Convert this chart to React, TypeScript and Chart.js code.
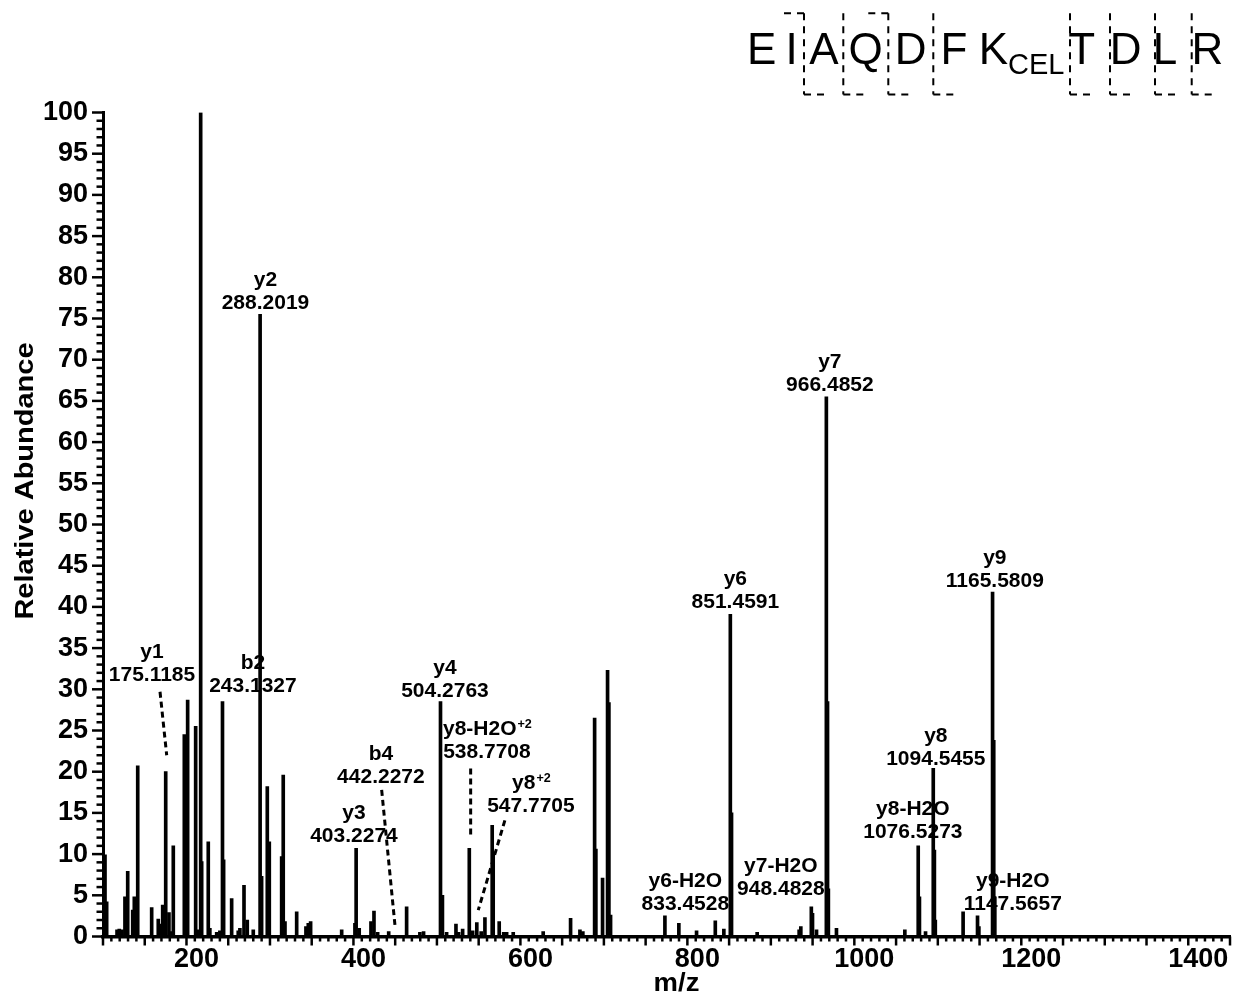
import React, { useEffect, useRef } from 'react';
import { Chart, registerables } from 'chart.js';

Chart.register(...registerables);

// ---------- DATA ----------
const peakMz = [
  102.4, 104.4, 116.8, 119.5, 122.8, 126.3, 129.6, 135.6, 137.5, 141.6,
  158.3, 166.2, 168.3, 171.5, 175.1185, 179.0, 180.5, 184.2, 197.4, 201.4,
  211.0, 212.8, 217.0, 218.2, 226.1, 228.0, 236.2, 240.0, 243.1327, 244.5,
  254.1, 262.0, 264.0, 268.9, 272.8, 280.0, 288.2019, 290.0, 296.8, 299.2,
  314.0, 315.9, 318.0, 332.0, 343.1, 345.9, 348.7, 385.9, 401.8, 403.2274,
  406.9, 421.0, 424.6, 429.0, 442.2272, 463.7, 479.6, 484.0, 504.2763, 506.6,
  511.6, 522.8, 526.0, 530.8, 538.7708, 542.8, 547.7705, 553.0, 557.5, 566.2,
  567.4, 574.6, 580.0, 583.5, 591.4, 627.3, 660.1, 671.3, 674.8, 688.9,
  690.4, 698.4, 704.4, 706.0, 708.0, 773.1, 789.8, 811.0, 833.4528, 843.7,
  851.4591, 852.9, 883.6, 933.9, 935.9, 948.4828, 949.9, 954.7, 966.4852, 967.9,
  968.9, 978.6, 1060.5, 1076.5273, 1078.0, 1085.3, 1094.5455, 1095.9, 1097.0, 1130.3,
  1147.5657, 1149.2, 1165.5809, 1167.0, 1168.3,
];
const peakIntensity = [
  9.9, 4.2, 0.8, 0.9, 0.8, 4.8, 7.9, 3.2, 4.8, 20.7,
  3.5, 2.1, 1.5, 3.8, 20.0, 2.9, 0.6, 11.0, 24.5, 28.7,
  25.5, 0.8, 100, 9.1, 11.5, 1.0, 0.5, 0.7, 28.5, 9.3,
  4.6, 0.7, 1.0, 6.2, 2.0, 0.8, 75.5, 7.3, 18.2, 11.5,
  9.7, 19.6, 1.8, 3.0, 1.2, 1.6, 1.8, 0.8, 1.6, 10.7,
  1.0, 1.8, 3.1, 0.5, 0.6, 3.6, 0.5, 0.6, 28.5, 5.0,
  0.5, 1.5, 0.5, 0.9, 10.7, 0.7, 1.7, 0.6, 2.3, 13.5,
  10.1, 1.8, 0.5, 0.5, 0.5, 0.6, 2.2, 0.8, 0.6, 26.5,
  10.6, 7.1, 32.3, 28.4, 2.6, 2.5, 1.6, 0.7, 1.9, 0.9,
  39.1, 15.0, 0.5, 0.8, 1.2, 3.6, 2.8, 0.8, 65.5, 28.5,
  5.8, 1.0, 0.8, 11.0, 4.8, 0.6, 20.4, 10.5, 2.0, 3.0,
  2.5, 1.2, 41.8, 23.8, 4.8,
];

const xTickValues = [200, 400, 600, 800, 1000, 1200, 1400];
const yTickValues = [0, 5, 10, 15, 20, 25, 30, 35, 40, 45, 50, 55, 60, 65, 70, 75, 80, 85, 90, 95, 100];

// annotated fragment ions
const ionNames = ['y1', 'b2', 'y2', 'y3', 'b4', 'y4', 'y8-H2O', 'y8', 'y6-H2O', 'y6', 'y7-H2O', 'y7', 'y8-H2O', 'y8', 'y9-H2O', 'y9'];
const ionCharges = ['', '', '', '', '', '', '+2', '+2', '', '', '', '', '', '', '', ''];
const ionMz = [175.1185, 243.1327, 288.2019, 403.2274, 442.2272, 504.2763, 538.7708, 547.7705, 833.4528, 851.4591, 948.4828, 966.4852, 1076.5273, 1094.5455, 1147.5657, 1165.5809];

// label anchors (m/z, % abundance of the mass-line baseline)
const labelAnchorMz = [158.7, 279.6, 294.6, 400.6, 432.9, 509.6, 559.9, 612.6, 797.6, 857.5, 912.0, 970.7, 1070.1, 1097.6, 1189.8, 1168.3];
const labelAnchorPct = [31.0, 29.7, 76.2, 11.5, 18.6, 29.1, 21.7, 15.1, 3.2, 39.9, 5.0, 66.2, 12.0, 20.8, 3.2, 42.4];
// dashed leader lines [fromMz, fromPct, toMz, toPct]
const leaderLines: (number[] | null)[] = [
  [168.3, 29.7, 176.3, 22.0], null, null, null, [433.8, 17.8, 449.7, 1.4], null,
  [540.4, 20.4, 540.4, 12.1], [581.4, 14.1, 549.5, 3.2], null, null, null, null, null, null, null, null,
];

// peptide sequence header
const residues = ['E', 'I', 'A', 'Q', 'D', 'F', 'K', 'T', 'D', 'L', 'R'];
const residueMods = ['', '', '', '', '', '', 'CEL', '', '', '', ''];
const bIonCuts = [2, 4];
const yIonCuts = [9, 8, 7, 6, 4, 3, 2, 1];

// header layout (pixels)
const residueCenterX = [761.7, 791.7, 824, 865.7, 910.7, 954, 993.3, 1081.7, 1125.7, 1165, 1207.3];
const cutMarkerX: Record<number, number> = { 2: 804, 3: 843.3, 4: 888.3, 5: 933.3, 7: 1070, 8: 1110, 9: 1155, 10: 1191.7 };

const FONT = "'Liberation Sans', Arial, Helvetica, sans-serif";

function drawStretched(ctx: CanvasRenderingContext2D, text: string, x: number, y: number, sx: number, align: CanvasTextAlign) {
  ctx.save();
  ctx.translate(x, y);
  ctx.scale(sx, 1);
  ctx.textAlign = align;
  ctx.fillText(text, 0, 0);
  ctx.restore();
}

const decorPlugin = {
  id: 'decor',
  afterDatasetsDraw(chart: any) {
    const ctx: CanvasRenderingContext2D = chart.ctx;
    const xs = chart.scales.x;
    const ys = chart.scales.y;
    ctx.save();
    ctx.fillStyle = '#000';
    ctx.strokeStyle = '#000';
    ctx.textBaseline = 'alphabetic';
    const sx = 1.05;
    for (let i = 0; i < ionNames.length; i++) {
      const cx = xs.getPixelForValue(labelAnchorMz[i]);
      const by = ys.getPixelForValue(labelAnchorPct[i]);
      ctx.font = `bold 20px ${FONT}`;
      drawStretched(ctx, ionMz[i].toFixed(4), cx, by, sx, 'center');
      const ny = by - 23;
      const name = ionNames[i];
      const sup = ionCharges[i];
      ctx.font = `bold 20px ${FONT}`;
      const wn = ctx.measureText(name).width * sx;
      let ws = 0;
      if (sup) {
        ctx.font = `bold 12px ${FONT}`;
        ws = ctx.measureText(sup).width * sx;
      }
      const left = cx - (wn + ws) / 2;
      ctx.font = `bold 20px ${FONT}`;
      drawStretched(ctx, name, left, ny, sx, 'left');
      if (sup) {
        ctx.font = `bold 12px ${FONT}`;
        drawStretched(ctx, sup, left + wn + 1, ny - 7, sx, 'left');
      }
      const ld = leaderLines[i];
      if (ld) {
        ctx.save();
        ctx.lineWidth = 3;
        ctx.setLineDash([6, 4]);
        ctx.beginPath();
        ctx.moveTo(xs.getPixelForValue(ld[0]), ys.getPixelForValue(ld[1]));
        ctx.lineTo(xs.getPixelForValue(ld[2]), ys.getPixelForValue(ld[3]));
        ctx.stroke();
        ctx.restore();
      }
    }
    ctx.restore();
  },
  afterDraw(chart: any) {
    const ctx: CanvasRenderingContext2D = chart.ctx;
    const xs = chart.scales.x;
    const ys = chart.scales.y;
    const ca = chart.chartArea;
    ctx.save();
    ctx.strokeStyle = '#000';
    ctx.fillStyle = '#000';
    ctx.lineWidth = 2.5;
    // x ticks: minor every 10, major every 50
    for (let v = xs.min; v <= xs.max + 0.01; v += 10) {
      const px = xs.getPixelForValue(v);
      const len = Math.round(v) % 50 === 0 ? 9 : 5;
      ctx.beginPath();
      ctx.moveTo(px, ca.bottom);
      ctx.lineTo(px, ca.bottom + len);
      ctx.stroke();
    }
    // y ticks: minor every 1, major every 5
    for (let v = ys.min; v <= ys.max + 0.01; v += 1) {
      const py = ys.getPixelForValue(v);
      const len = Math.round(v) % 5 === 0 ? 11 : 6.5;
      ctx.beginPath();
      ctx.moveTo(ca.left - len, py);
      ctx.lineTo(ca.left, py);
      ctx.stroke();
    }
    // axis titles
    ctx.font = `bold 25px ${FONT}`;
    ctx.textBaseline = 'alphabetic';
    drawStretched(ctx, 'm/z', (ca.left + ca.right) / 2 + 10, 991, 1.1, 'center');
    ctx.save();
    ctx.translate(33, 481);
    ctx.rotate(-Math.PI / 2);
    ctx.scale(1.16, 1);
    ctx.textAlign = 'center';
    ctx.fillText('Relative Abundance', 0, 0);
    ctx.restore();

    // peptide header
    const baseY = 63.5;
    for (let i = 0; i < residues.length; i++) {
      ctx.font = `44px ${FONT}`;
      ctx.textAlign = 'center';
      ctx.fillText(residues[i], residueCenterX[i], baseY);
      if (residueMods[i]) {
        const w = ctx.measureText(residues[i]).width;
        ctx.font = `29px ${FONT}`;
        ctx.textAlign = 'left';
        ctx.fillText(residueMods[i], residueCenterX[i] + w / 2, baseY + 10);
      }
    }
    ctx.lineWidth = 2;
    ctx.setLineDash([7, 6]);
    const topY = 13.3;
    const botY = 94.5;
    const cuts = Array.from(new Set([...bIonCuts, ...yIonCuts.map((y) => residues.length - y)]));
    for (const k of cuts) {
      const x = cutMarkerX[k];
      ctx.beginPath();
      ctx.moveTo(x, topY);
      ctx.lineTo(x, botY);
      ctx.stroke();
    }
    for (const b of bIonCuts) {
      const x = cutMarkerX[b];
      ctx.beginPath();
      ctx.moveTo(x, topY);
      ctx.lineTo(x - 22, topY);
      ctx.stroke();
    }
    for (const y of yIonCuts) {
      const x = cutMarkerX[residues.length - y];
      ctx.beginPath();
      ctx.moveTo(x, botY);
      ctx.lineTo(x + 22, botY);
      ctx.stroke();
    }
    ctx.restore();
  },
};

export default function App() {
  const ref = useRef<HTMLCanvasElement>(null);
  useEffect(() => {
    const canvas = ref.current;
    if (!canvas) return;
    const chart = new Chart(canvas, {
      type: 'bar',
      data: {
        datasets: [
          {
            data: peakMz.map((m, i) => ({ x: m, y: peakIntensity[i] })),
            backgroundColor: '#000',
            borderWidth: 0,
            barThickness: 3,
            grouped: false,
          } as any,
        ],
      },
      options: {
        responsive: false,
        animation: false,
        devicePixelRatio: 1,
        layout: { padding: { top: 112.5, right: 11, left: 0, bottom: 0 } },
        plugins: { legend: { display: false }, tooltip: { enabled: false }, title: { display: false } },
        scales: {
          x: {
            type: 'linear',
            min: 100,
            max: 1450,
            offset: false,
            grid: { display: false, drawTicks: false },
            border: { display: true, color: '#000', width: 3.5 },
            ticks: {
              font: { family: FONT, size: 27, weight: 'bold' },
              color: '#000',
              padding: 7,
              labelOffset: 10,
              maxRotation: 0,
              autoSkip: false,
              callback: (v: any) => String(v),
            },
            afterBuildTicks: (s: any) => {
              s.ticks = xTickValues.map((v) => ({ value: v }));
            },
            afterFit: (s: any) => {
              s.height = 63.5;
            },
          },
          y: {
            type: 'linear',
            min: 0,
            max: 100,
            grid: { display: false, drawTicks: false },
            border: { display: true, color: '#000', width: 3 },
            ticks: {
              font: { family: FONT, size: 27, weight: 'bold' },
              color: '#000',
              padding: 15,
              autoSkip: false,
              callback: (v: any) => String(v),
            },
            afterBuildTicks: (s: any) => {
              s.ticks = yTickValues.map((v) => ({ value: v }));
            },
            afterFit: (s: any) => {
              s.width = 103;
            },
          },
        },
      } as any,
      plugins: [decorPlugin],
    });
    return () => chart.destroy();
  }, []);
  return (
    <div style={{ position: 'absolute', left: 0, top: 0, width: 1241, height: 1000, background: '#fff' }}>
      <canvas ref={ref} width={1241} height={1000} style={{ width: 1241, height: 1000, display: 'block' }} />
    </div>
  );
}
